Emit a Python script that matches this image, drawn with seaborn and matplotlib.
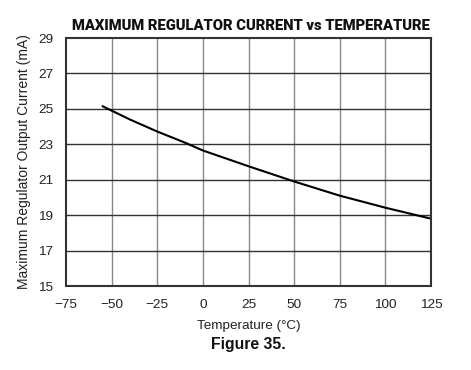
import matplotlib
matplotlib.use("Agg")
import matplotlib.pyplot as plt
import seaborn as sns
import pandas as pd

# values
temp_c = [-55, -40, -25, -10, 0, 25, 50, 75, 100, 125]
current_ma = [25.15, 24.4, 23.72, 23.1, 22.65, 21.76, 20.9, 20.1, 19.42, 18.8]
x_ticks = [-75, -50, -25, 0, 25, 50, 75, 100, 125]
y_ticks = [15, 17, 19, 21, 23, 25, 27, 29]

sns.set_style("white")
plt.rcParams['font.family'] = ['Liberation Sans', 'DejaVu Sans']

df = pd.DataFrame({'temp': temp_c, 'current': current_ma})

fig = plt.figure(figsize=(4.71, 3.70), dpi=100)
ax = fig.add_axes([66/471, 1-286/370, (431-66)/471, (286-38)/370])

sns.lineplot(data=df, x='temp', y='current', ax=ax, color='black', linewidth=1.5)

ax.set_xlim(-75, 125)
ax.set_ylim(15, 29)
ax.set_xticks(x_ticks)
ax.set_xticklabels(['\u2212' + str(-t) if t < 0 else str(t) for t in x_ticks])
ax.set_yticks(y_ticks)
ax.tick_params(length=0, labelsize=9.7, colors='#222222')
ax.tick_params(axis='x', pad=9)
ax.tick_params(axis='y', pad=9)

for x in x_ticks[1:-1]:
    ax.axvline(x, color='#888888', linewidth=1.0, zorder=0)
for y in y_ticks[1:-1]:
    ax.axhline(y, color='#333333', linewidth=1.0, zorder=0)

for s in ax.spines.values():
    s.set_color('#333333')
    s.set_linewidth(1.5)

ax.set_xlabel('Temperature (\u00b0C)', fontsize=9.7, color='#222222', labelpad=7)
ax.set_ylabel('Maximum Regulator Output Current (mA)', fontsize=10, color='#222222', labelpad=5)
ax.set_title('MAXIMUM REGULATOR CURRENT vs TEMPERATURE', fontsize=10.6,
             fontweight='heavy', pad=6, x=(251 - 66) / (431 - 66), color='#111111',
             family=['Roboto', 'Liberation Sans'])
fig.text((66 + 431) / 2 / 471, 1 - 345/370, 'Figure 35.', ha='center', va='center',
         fontsize=11.3, fontweight='bold', color='#111111')

plt.savefig('out.png', dpi=100)
